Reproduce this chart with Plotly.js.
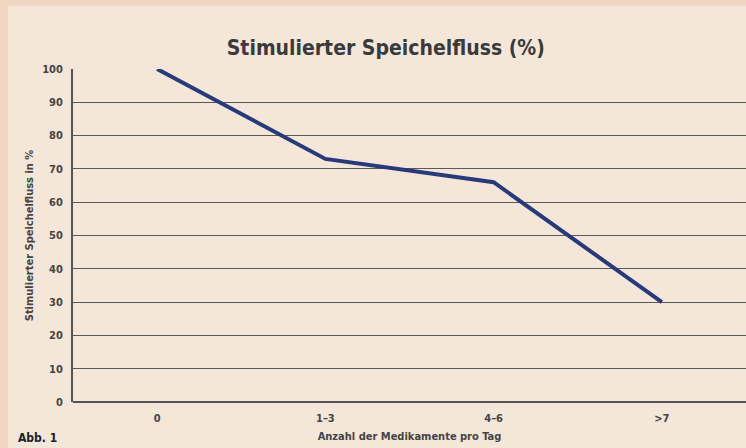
<!DOCTYPE html>
<html><head><meta charset="utf-8">
<script src="https://cdn.plot.ly/plotly-3.0.1.min.js"></script>
<style>
html,body{margin:0;padding:0;background:#f0d7c1;width:746px;height:448px;overflow:hidden;}
#chart{position:absolute;left:8px;top:6px;width:738px;height:442px;}
</style></head>
<body><div id="chart"></div>
<script>
const categories = ['0', '1–3', '4–6', '>7'];
const values = [100, 73, 66, 30];
const yTicks = [0, 10, 20, 30, 40, 50, 60, 70, 80, 90, 100];

const F = '"DejaVu Sans Condensed", "Liberation Sans Narrow", sans-serif';

const trace = {
  x: categories, y: values, type: 'scatter', mode: 'lines',
  line: {color: '#283a78', width: 4}, hoverinfo: 'skip'
};

const layout = {
  width: 738, height: 442,
  paper_bgcolor: '#f5e6da', plot_bgcolor: '#f5e6da',
  margin: {l: 65, r: 0, t: 63, b: 46},
  showlegend: false,
  title: {text: '<b>Stimulierter Speichelfluss (%)</b>', x: 0.512, xanchor: 'center', y: 0.905, yanchor: 'middle',
    font: {family: F, size: 21, color: '#3a3a3a'}},
  xaxis: {
    type: 'category', range: [-0.5, 3.5], showgrid: false, zeroline: false,
    showline: false, ticks: '', ticklabelstandoff: 8,
    tickfont: {family: F, size: 11, color: '#444', weight: 'bold'},
    title: {text: '<b>Anzahl der Medikamente pro Tag</b>', standoff: 8, font: {family: F, size: 11, color: '#444'}}
  },
  yaxis: {
    range: [0, 100], tickvals: yTicks, showgrid: true, gridcolor: '#5a5a5a', gridwidth: 1,
    zeroline: true, zerolinecolor: '#555', zerolinewidth: 2,
    showline: true, linecolor: '#555', linewidth: 2, ticks: '', ticklabelstandoff: 6,
    tickfont: {family: F, size: 11, color: '#444', weight: 'bold'},
    title: {text: '<b>Stimulierter Speichelfluss in %</b>', standoff: 6, font: {family: F, size: 11, color: '#444'}}
  },
  annotations: [{
    text: '<b>Abb. 1</b>', xref: 'paper', yref: 'paper', x: -0.085, y: -0.136, xanchor: 'left', yanchor: 'bottom',
    showarrow: false, font: {family: F, size: 12, color: '#222'}
  }]
};

Plotly.newPlot('chart', [trace], layout, {displayModeBar: false, staticPlot: true});
</script>
</body></html>
